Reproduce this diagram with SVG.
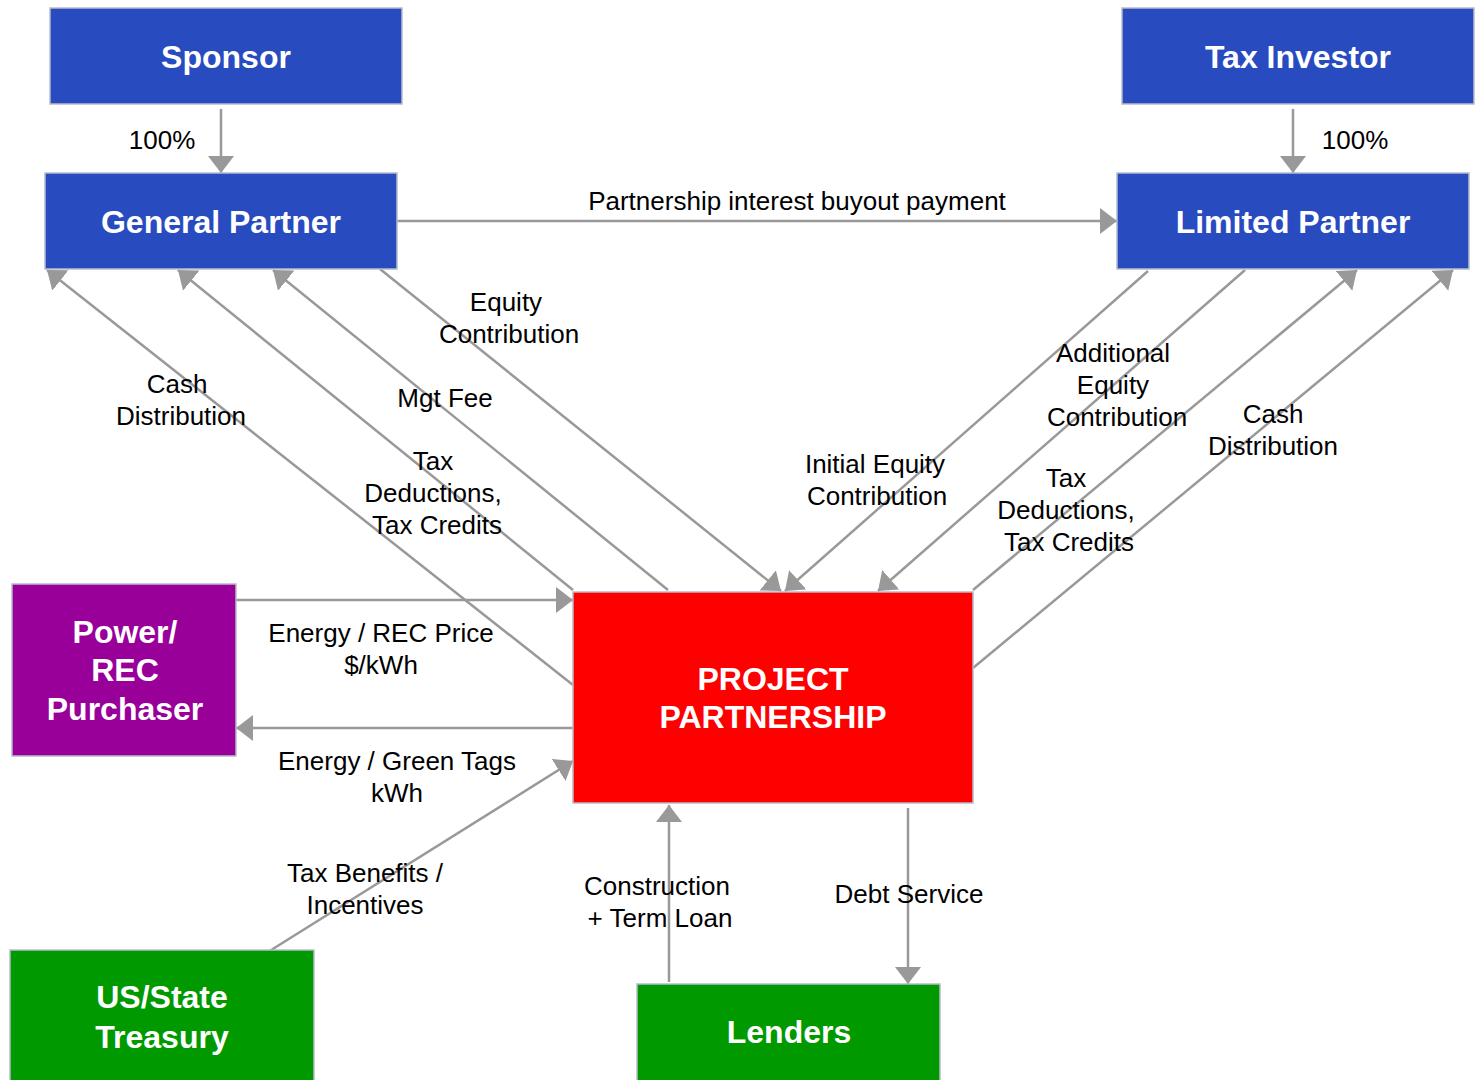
<svg xmlns="http://www.w3.org/2000/svg" width="1478" height="1080" viewBox="0 0 1478 1080">
<defs>
<marker id="ah" markerUnits="userSpaceOnUse" markerWidth="18" markerHeight="26" refX="17" refY="13" orient="auto">
<path d="M0,0 L17,13 L0,26 z" fill="#999999"/>
</marker>
<style>
.box{stroke:#b8bccb;stroke-width:1.5}
.blue{fill:#284bbf}
.t{font-family:"Liberation Sans",Arial,sans-serif;font-weight:bold;font-size:32px;fill:#ffffff;text-anchor:middle}
.l{font-family:"Liberation Sans",Arial,sans-serif;font-size:26px;fill:#000000;text-anchor:middle}
.c{stroke:#999999;stroke-width:2.5;fill:none}
.a{marker-end:url(#ah)}
</style>
</defs>
<rect width="1478" height="1080" fill="#ffffff"/>
<g id="connectors">
<line class="c a" x1="221" y1="109" x2="221" y2="173"/>
<line class="c a" x1="1293" y1="109" x2="1293" y2="173"/>
<line class="c a" x1="397" y1="221" x2="1117" y2="221"/>
<line class="c a" x1="573" y1="685" x2="47" y2="270"/>
<line class="c a" x1="573" y1="590" x2="178" y2="270"/>
<line class="c a" x1="668" y1="590" x2="273" y2="270"/>
<line class="c a" x1="380" y1="269" x2="781" y2="591"/>
<line class="c a" x1="1148" y1="271" x2="785" y2="591"/>
<line class="c a" x1="1245" y1="270" x2="878" y2="591"/>
<line class="c a" x1="973" y1="590" x2="1357" y2="270"/>
<line class="c a" x1="973" y1="668" x2="1453" y2="270"/>
<line class="c a" x1="236" y1="600" x2="573" y2="600"/>
<line class="c a" x1="573" y1="728" x2="236" y2="728"/>
<line class="c a" x1="268" y1="952" x2="573" y2="761"/>
<line class="c a" x1="669" y1="982" x2="669" y2="805"/>
<line class="c a" x1="908" y1="808" x2="908" y2="984"/>
</g>
<g id="sponsor">
<rect class="box blue" x="50" y="8" width="352" height="96"/>
<text class="t" x="226" y="68">Sponsor</text>
</g>
<g id="tax-investor">
<rect class="box blue" x="1122" y="8" width="352" height="96"/>
<text class="t" x="1298" y="68">Tax Investor</text>
</g>
<g id="general-partner">
<rect class="box blue" x="45" y="173" width="352" height="96"/>
<text class="t" x="221" y="233">General Partner</text>
</g>
<g id="limited-partner">
<rect class="box blue" x="1117" y="173" width="352" height="96"/>
<text class="t" x="1293" y="233">Limited Partner</text>
</g>
<g id="power-purchaser">
<rect class="box" x="12" y="584" width="224" height="172" fill="#990099"/>
<text class="t" x="125" y="643">Power/</text>
<text class="t" x="125" y="681">REC</text>
<text class="t" x="125" y="720">Purchaser</text>
</g>
<g id="project-partnership">
<rect class="box" x="573" y="592" width="400" height="211" fill="#ff0000"/>
<text class="t" x="773" y="690">PROJECT</text>
<text class="t" x="773" y="728">PARTNERSHIP</text>
</g>
<g id="treasury">
<rect class="box" x="10" y="950" width="304" height="135" fill="#009900"/>
<text class="t" x="162" y="1008">US/State</text>
<text class="t" x="162" y="1048">Treasury</text>
</g>
<g id="lenders">
<rect class="box" x="637" y="984" width="303" height="101" fill="#009900"/>
<text class="t" x="789" y="1043">Lenders</text>
</g>
<g id="labels">
<text class="l" x="162" y="149">100%</text>
<text class="l" x="1355" y="149">100%</text>
<text class="l" x="797" y="210">Partnership interest buyout payment</text>
<text class="l" x="506" y="311">Equity</text>
<text class="l" x="509" y="343">Contribution</text>
<text class="l" x="177" y="393">Cash</text>
<text class="l" x="181" y="425">Distribution</text>
<text class="l" x="445" y="407">Mgt Fee</text>
<text class="l" x="433" y="470">Tax</text>
<text class="l" x="433" y="502">Deductions,</text>
<text class="l" x="437" y="534">Tax Credits</text>
<text class="l" x="875" y="473">Initial Equity</text>
<text class="l" x="877" y="505">Contribution</text>
<text class="l" x="1113" y="362">Additional</text>
<text class="l" x="1113" y="394">Equity</text>
<text class="l" x="1117" y="426">Contribution</text>
<text class="l" x="1273" y="423">Cash</text>
<text class="l" x="1273" y="455">Distribution</text>
<text class="l" x="1066" y="487">Tax</text>
<text class="l" x="1066" y="519">Deductions,</text>
<text class="l" x="1069" y="551">Tax Credits</text>
<text class="l" x="381" y="642">Energy / REC Price</text>
<text class="l" x="381" y="674">$/kWh</text>
<text class="l" x="397" y="770">Energy / Green Tags</text>
<text class="l" x="397" y="802">kWh</text>
<text class="l" x="365" y="882">Tax Benefits /</text>
<text class="l" x="365" y="914">Incentives</text>
<text class="l" x="657" y="895">Construction</text>
<text class="l" x="660" y="927">+ Term Loan</text>
<text class="l" x="909" y="903">Debt Service</text>
</g>
</svg>
